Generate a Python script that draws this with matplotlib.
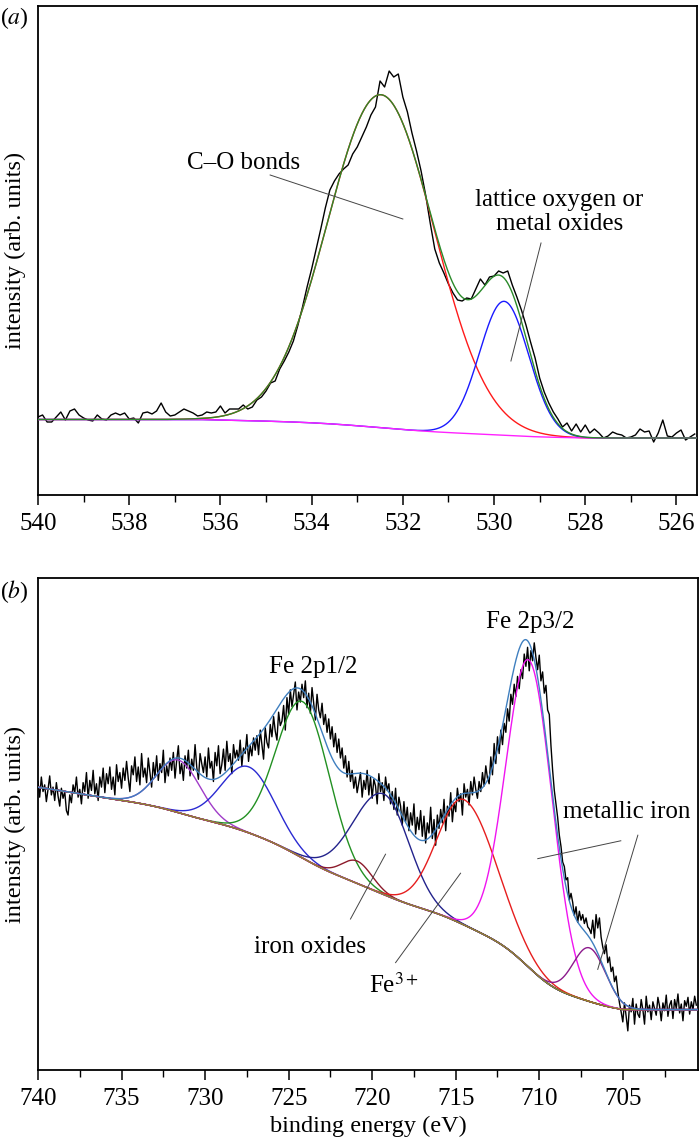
import numpy as np
import matplotlib
matplotlib.use("Agg")
import matplotlib.pyplot as plt
from matplotlib.ticker import MultipleLocator

plt.rcParams["font.family"] = ["Liberation Serif", "DejaVu Serif"]
plt.rcParams["mathtext.fontset"] = "stix"

# ------------------------------
# (a) O 1s spectrum, 0.1 eV steps from 540.0 eV
# ------------------------------
o1s_start, o1s_step = 540.0, 0.1
o1s_counts = [
    78, 80, 73, 73, 78, 83, 75, 84, 86, 80,
    77, 75, 74, 80, 76, 75, 80, 82, 80, 82,
    76, 77, 72, 82, 83, 81, 84, 92, 83, 79,
    80, 83, 86, 84, 82, 79, 80, 83, 82, 83,
    89, 82, 86, 86, 86, 90, 86, 88, 95, 98,
    104, 112, 114, 126, 134, 143, 154, 170, 188, 208,
    226, 246, 266, 287, 305, 314, 321, 326, 330, 341,
    348, 358, 368, 380, 388, 414, 408, 424, 418, 421,
    398, 383, 362, 344, 324, 300, 272, 246, 232, 222,
    211, 202, 195, 194, 197, 196, 206, 216, 210, 218,
    219, 224, 222, 224, 210, 198, 185, 170, 153, 137,
    117, 103, 92, 83, 76, 68, 72, 64, 71, 63,
    70, 62, 66, 62, 57, 59, 63, 61, 60, 57,
    58, 60, 66, 63, 64, 53, 62, 75, 59, 58,
    62, 65, 55, 58, 61,
]
# fitted components: C-O bonds, lattice oxygen / metal oxides
o1s_centers = [532.48, 529.78]
o1s_heights = [333, 134]
o1s_sig_lo = [1.17, 0.54]
o1s_sig_hi = [1.17, 0.54]
o1s_colors = ["#ff1a1a", "#1a1aff"]
# background: low level, Shirley step, linear slope and its energy range
o1s_bg = dict(low=57, step=10, slope=1.0, ramp=(528.0, 536.5))

# ------------------------------
# (b) Fe 2p spectrum, 0.1 eV steps from 740.0 eV
# ------------------------------
fe_start, fe_step = 740.0, 0.1
fe_counts = [
    258, 244, 262, 249, 255, 240, 251, 263, 246, 253,
    241, 257, 245, 236, 252, 243, 249, 232, 228, 246,
    239, 255, 248, 262, 244, 251, 238, 257, 249, 266,
    243, 259, 250, 268, 247, 256, 241, 262, 253, 270,
    248, 265, 256, 271, 251, 262, 246, 273, 258, 266,
    252, 270, 259, 276, 261, 249, 272, 264, 280, 258,
    271, 255, 283, 262, 270, 257, 279, 266, 253, 275,
    262, 281, 259, 274, 266, 286, 257, 272, 263, 279,
    268, 284, 261, 277, 290, 265, 274, 259, 281, 270,
    286, 263, 278, 268, 291, 271, 260, 283, 274, 266,
    280, 262, 288, 270, 276, 258, 284, 272, 290, 265,
    273, 287, 268, 294, 276, 283, 265, 291, 279, 286,
    277, 295, 272, 288, 283, 300, 276, 290, 281, 297,
    286, 299, 282, 304, 291, 278, 306, 293, 288, 309,
    298, 316, 303, 295, 320, 308, 312, 326, 304, 333,
    318, 340, 325, 336, 347, 322, 338, 329, 345, 333,
    348, 324, 337, 319, 342, 328, 313, 336, 322, 315,
    328, 309, 318, 302, 314, 296, 307, 289, 301, 284,
    296, 279, 288, 270, 281, 262, 276, 258, 268, 252,
    262, 248, 257, 266, 244, 259, 251, 268, 246, 262,
    243, 260, 254, 238, 265, 249, 257, 241, 262, 250,
    256, 238, 249, 233, 252, 228, 244, 236, 219, 240,
    222, 235, 214, 230, 219, 238, 211, 226, 215, 232,
    209, 227, 203, 221, 212, 235, 207, 224, 201, 228,
    216, 233, 221, 242, 214, 236, 227, 248, 222, 239,
    231, 252, 240, 247, 228, 256, 244, 251, 237, 258,
    246, 262, 251, 243, 258, 249, 266, 254, 272, 261,
    256, 280, 264, 292, 274, 298, 283, 304, 291, 310,
    302, 323, 312, 336, 327, 345, 334, 352, 341, 358,
    350, 372, 361, 378, 357, 375, 366, 382, 369, 358,
    371, 348, 356, 337, 344, 322, 318, 290, 268, 250,
    238, 226, 210, 200, 186, 182, 170, 172, 152, 158,
    150, 138, 146, 132, 142, 134, 139, 131, 136, 128,
    126, 122, 134, 118, 139, 127, 136, 119, 110, 104,
    112, 96, 101, 88, 92, 79, 84, 70, 60, 52,
    43, 60, 48, 35, 58, 52, 64, 41, 59, 50,
    47, 63, 54, 41, 66, 52, 58, 45, 61, 55,
    49, 65, 57, 44, 60, 53, 67, 48, 58, 62,
    46, 63, 55, 68, 51, 59, 44, 62, 57, 65,
    50, 61, 54, 66, 58,
]
# fitted components (satellites, Fe 2p1/2, iron oxides, Fe3+, Fe 2p3/2, metallic iron)
fe_centers = [731.6, 727.4, 724.15, 720.9, 719.3, 714.5, 710.6, 707.0]
fe_heights = [47, 59, 140, 20, 90, 112, 275, 48]
fe_sig_lo = [1.3, 1.6, 1.6, 0.9, 1.5, 1.95, 1.38, 0.98]
fe_sig_hi = [1.3, 1.6, 1.6, 0.9, 1.8, 1.6, 1.38, 0.98]
fe_colors = ["#a03cc8", "#2a2ad2", "#229022", "#8c1a2a",
             "#23238c", "#e61e1e", "#f014f0", "#8c1a8c"]
fe_bg = dict(low=54, step=117, slope=2.34, ramp=(705.0, 740.0))


def peak(x, c, h, s_lo, s_hi):
    s = np.where(x < c, s_lo, s_hi)
    return h * np.exp(-0.5 * ((x - c) / s) ** 2)


def background(x, total, low, step, slope, ramp):
    # Shirley step (integrated peak area from the low BE end) plus a linear part
    order = np.argsort(x)
    cum = np.cumsum(total[order])
    frac = np.empty_like(cum)
    frac[order] = cum / cum[-1]
    lin = slope * np.clip(x - ramp[0], 0, ramp[1] - ramp[0])
    return low + step * frac + lin


def style_axes(ax, xlim, ylim, major, minor):
    ax.set_xlim(*xlim)
    ax.set_ylim(*ylim)
    ax.xaxis.set_major_locator(MultipleLocator(major))
    ax.xaxis.set_minor_locator(MultipleLocator(minor))
    ax.tick_params(axis="x", which="major", direction="out", length=7, width=1.1,
                   labelsize=18, pad=6, top=False)
    ax.tick_params(axis="x", which="minor", direction="out", length=5, width=1.0, top=False)
    ax.tick_params(axis="y", left=False, labelleft=False)
    for sp in ax.spines.values():
        sp.set_linewidth(1.3)


def draw_panel(ax, start, step, counts, centers, heights, s_lo, s_hi, colors,
               bg_par, xlim, envelope_color, bg_color):
    counts = np.asarray(counts, dtype=float)
    energy = start - step * np.arange(len(counts))
    x = np.linspace(xlim[0], xlim[1], 1500)
    comps = [peak(x, c, h, a, b) for c, h, a, b in zip(centers, heights, s_lo, s_hi)]
    total = np.sum(comps, axis=0)
    bg = background(x, total, **bg_par)

    ax.plot(energy, counts, color="black", lw=1.0, zorder=2)
    for comp, col in zip(comps, colors):
        ax.plot(x, bg + comp, color=col, lw=1.0, zorder=3)
    ax.plot(x, bg, color=bg_color, lw=1.0, zorder=3)
    ax.plot(x, bg + total, color=envelope_color, lw=1.0, zorder=4)


fig = plt.figure(figsize=(7.0, 11.41), dpi=100)
ax_a = fig.add_axes([38 / 700, 1 - 495 / 1141, (697 - 38) / 700, (495 - 6) / 1141])
ax_b = fig.add_axes([38 / 700, 1 - 1070 / 1141, (698 - 38) / 700, (1070 - 578) / 1141])

# panel (a)
draw_panel(ax_a, o1s_start, o1s_step, o1s_counts, o1s_centers, o1s_heights,
           o1s_sig_lo, o1s_sig_hi, o1s_colors, o1s_bg,
           (540, 525.55), "#2a8a2a", "#ff22ff")
style_axes(ax_a, (540, 525.55), (0, 489), 2, 1)

lead = dict(color="#444444", lw=0.7, zorder=5)
ax_a.text(535.5, 332, "C\u2013O bonds", fontsize=18, ha="center", va="center")
ax_a.plot([534.91, 532.0], [320, 276], **lead)
ax_a.text(528.57, 283, "lattice oxygen or\nmetal oxides", fontsize=18,
          ha="center", va="center", linespacing=1.1)
ax_a.plot([528.97, 529.63], [252, 134], **lead)

# panel (b)
draw_panel(ax_b, fe_start, fe_step, fe_counts, fe_centers, fe_heights,
           fe_sig_lo, fe_sig_hi, fe_colors, fe_bg,
           (740, 700.5), "#3f7fbf", "#8f8a2e")
style_axes(ax_b, (740, 700.5), (0, 440), 5, 2.5)

ax_b.text(723.52, 360, "Fe 2p1/2", fontsize=18, ha="center", va="center")
ax_b.text(710.51, 401, "Fe 2p3/2", fontsize=18, ha="center", va="center")
ax_b.text(704.76, 231, "metallic iron", fontsize=18, ha="center", va="center")
ax_b.plot([710.09, 705.12], [189, 205], **lead)
ax_b.plot([704.1, 706.5], [210, 90], **lead)
ax_b.text(723.7, 110, "iron oxides", fontsize=18, ha="center", va="center")
ax_b.plot([721.3, 719.2], [135, 193], **lead)
ax_b.text(718.7, 76, r"Fe$^{3+}$", fontsize=18, ha="center", va="center")
ax_b.plot([718.6, 714.71], [96, 176], **lead)

# panel letters and axis titles
fig.text(0.02, 1 - 18 / 1141, r"($a$)", fontsize=17, ha="center", va="center")
fig.text(0.02, 1 - 592 / 1141, r"($b$)", fontsize=17, ha="center", va="center")
fig.text(0.022, 1 - 250 / 1141, "intensity (arb. units)", fontsize=17.5,
         rotation=90, ha="center", va="center")
fig.text(0.022, 1 - 824 / 1141, "intensity (arb. units)", fontsize=17.5,
         rotation=90, ha="center", va="center")
fig.text(368 / 700, 1 - 1126 / 1141, "binding energy (eV)", fontsize=17.5,
         ha="center", va="center")

fig.savefig("out.png", dpi=100)
